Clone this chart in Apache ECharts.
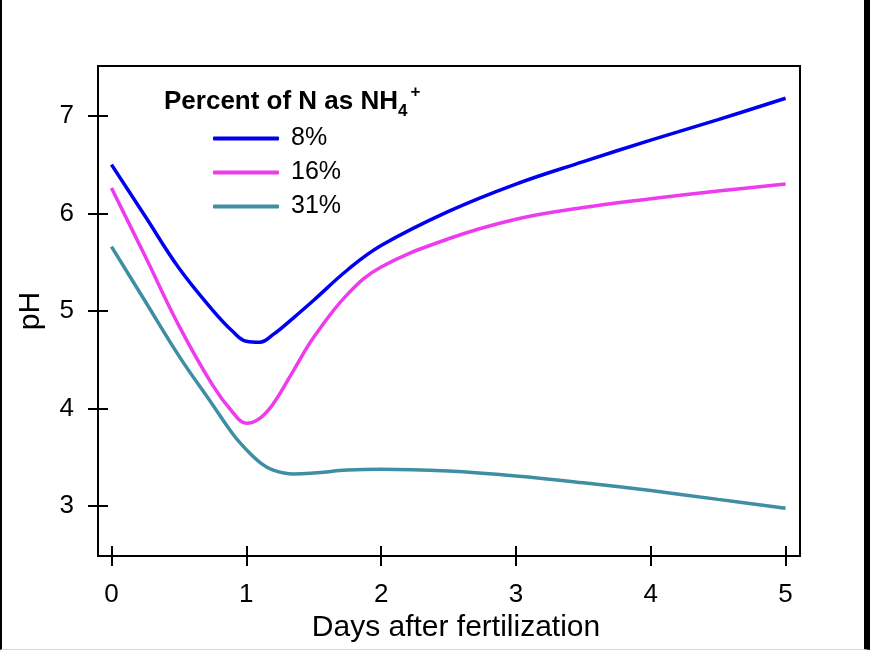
<!DOCTYPE html>
<html lang="en">
<head>
    <meta charset="UTF-8">
    <script src="https://cdn.jsdelivr.net/npm/echarts@6/dist/echarts.min.js"></script>
</head>
<style>
    html, body {
        margin: 0;
        padding: 0;
        background: #fff;
    }

    #main {
        width: 870px;
        height: 650px;
        box-sizing: border-box;
        border-left: 2px solid #000;
        border-right: 6px solid #000;
        border-bottom: 1px solid #d8d8d8;
    }
</style>
<body>

<div id="main"></div>

<script type="text/javascript">

    // days after fertilization (x values shared by all three curves)
    const days = [0, 0.25, 0.5, 0.75, 0.9, 1, 1.1, 1.2, 1.35, 1.5, 1.75, 2, 2.5, 3, 3.5, 4, 4.5, 5];

    // pH
    const ph8 = [6.50, 5.97, 5.44, 5.01, 4.79, 4.69, 4.68, 4.76, 4.93, 5.11, 5.42, 5.67, 6.02, 6.30, 6.53, 6.75, 6.96, 7.18];
    const ph16 = [6.26, 5.56, 4.85, 4.24, 3.96, 3.85, 3.90, 4.05, 4.39, 4.73, 5.17, 5.45, 5.74, 5.94, 6.06, 6.15, 6.23, 6.30];
    const ph31 = [5.66, 5.10, 4.54, 4.04, 3.74, 3.58, 3.45, 3.37, 3.33, 3.34, 3.37, 3.38, 3.36, 3.31, 3.24, 3.16, 3.07, 2.98];

    const seriesNames = ['8%', '16%', '31%'];
    const seriesColors = ['#0000f0', '#ee3bee', '#3e8fa3'];

    const xTicks = [0, 1, 2, 3, 4, 5];
    const yTicks = [3, 4, 5, 6, 7];

    const font = 'Liberation Sans, Arial, Helvetica, sans-serif';

    function pairs(ys) {
        return days.map(function (d, i) {
            return [d, ys[i]];
        });
    }

    let myEcharts = echarts.init(document.getElementById('main'));

    // axes are pulled 10px into the plot so that 20px ticks cross the frame
    let option = {
        animation: false,
        textStyle: {fontFamily: font},
        title: {
            left: 162,
            top: 84,
            padding: 0,
            text: '{b|Percent of N as NH}{sub|4}{sup|+}',
            textStyle: {
                rich: {
                    b: {fontSize: 26, fontWeight: 'bold', color: '#000', fontFamily: font, lineHeight: 36, verticalAlign: 'middle'},
                    sub: {fontSize: 17, fontWeight: 'bold', color: '#000', fontFamily: font, verticalAlign: 'bottom', lineHeight: 17},
                    sup: {fontSize: 17, fontWeight: 'bold', color: '#000', fontFamily: font, verticalAlign: 'top', lineHeight: 17, padding: [0, 0, 0, 3]}
                }
            }
        },
        legend: {
            left: 211,
            top: 126,
            padding: 0,
            orient: 'vertical',
            icon: 'roundRect',
            itemWidth: 66,
            itemHeight: 4,
            itemGap: 9,
            textStyle: {fontSize: 25, color: '#000', fontFamily: font, padding: [0, 0, 0, 7]},
            data: seriesNames
        },
        grid: {
            left: 96,
            right: 64,
            top: 66,
            bottom: 93,
            show: true,
            borderColor: '#000',
            borderWidth: 2,
            containLabel: false
        },
        xAxis: {
            type: 'value',
            min: -0.1,
            max: 5.107,
            offset: -10,
            splitLine: {show: false},
            axisLine: {show: false, onZero: false},
            axisTick: {show: true, customValues: xTicks, length: 20, lineStyle: {color: '#000', width: 2}},
            axisLabel: {show: true, customValues: xTicks, margin: 36, fontSize: 26, color: '#000', fontFamily: font},
            name: 'Days after fertilization',
            nameLocation: 'middle',
            nameGap: 66,
            nameTextStyle: {fontSize: 30, color: '#000', fontFamily: font, padding: [0, 0, 0, 14]}
        },
        yAxis: {
            type: 'value',
            min: 2.49,
            max: 7.51,
            offset: -10,
            splitLine: {show: false},
            axisLine: {show: false, onZero: false},
            axisTick: {show: true, customValues: yTicks, length: 20, lineStyle: {color: '#000', width: 2}},
            axisLabel: {show: true, customValues: yTicks, margin: 34, fontSize: 26, color: '#000', fontFamily: font},
            name: 'pH',
            nameLocation: 'middle',
            nameGap: 62,
            nameTextStyle: {fontSize: 30, color: '#000', fontFamily: font}
        },
        series: [ph8, ph16, ph31].map(function (ys, i) {
            return {
                name: seriesNames[i],
                type: 'line',
                data: pairs(ys),
                smooth: 0.4,
                symbol: 'none',
                color: seriesColors[i],
                lineStyle: {color: seriesColors[i], width: 3.5}
            };
        })
    };

    myEcharts.setOption(option);

</script>
</body>
</html>
